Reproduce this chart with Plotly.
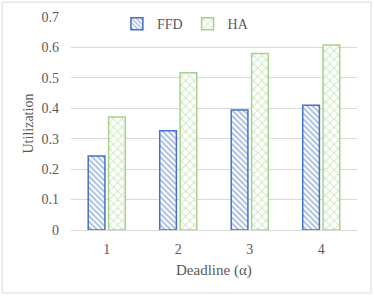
import plotly.graph_objects as go

categories = ["1", "2", "3", "4"]
ffd = [0.243, 0.326, 0.394, 0.410]
ha = [0.371, 0.517, 0.580, 0.608]
y_ticks = [0, 0.1, 0.2, 0.3, 0.4, 0.5, 0.6, 0.7]
y_tick_text = ["0", "0.1", "0.2", "0.3", "0.4", "0.5", "0.6", "0.7"]

FONT = "Liberation Serif, Times New Roman, serif"
BLUE = "#4472C4"
GREEN = "#A9D18E"
TXT = "#595959"

fig = go.Figure()
fig.add_trace(go.Bar(
    name="FFD", x=categories, y=ffd,
    marker=dict(color="white", line=dict(color=BLUE, width=1.5),
                pattern=dict(shape="\\", fgcolor=BLUE, bgcolor="white", size=4, solidity=0.45)),
))
fig.add_trace(go.Bar(
    name="HA", x=categories, y=ha,
    marker=dict(color="white", line=dict(color=GREEN, width=1.5),
                pattern=dict(shape="x", fgcolor=GREEN, bgcolor="white", size=6, solidity=0.35)),
))

fig.update_layout(
    width=374, height=296,
    margin=dict(l=71, r=17, t=17, b=66, autoexpand=False),
    paper_bgcolor="white", plot_bgcolor="white",
    font=dict(family=FONT, size=14, color=TXT),
    barmode="group", bargap=0.43, bargroupgap=0.18,
    showlegend=True,
    legend=dict(orientation="h", x=0.40, y=0.967, xanchor="center", yanchor="middle",
                font=dict(family=FONT, size=14, color=TXT),
                bgcolor="rgba(0,0,0,0)", itemwidth=30, tracegroupgap=0),
    shapes=[dict(type="rect", xref="paper", yref="paper",
                 x0=-0.241, x1=1.049, y0=-0.296, y1=1.070,
                 line=dict(color="#D9D9D9", width=1), fillcolor="rgba(0,0,0,0)", layer="below")],
    annotations=[
        dict(text="Utilization", xref="paper", yref="paper", x=(28 - 71) / 286, y=0.5,
             textangle=-90, showarrow=False, xanchor="center", yanchor="middle",
             font=dict(family=FONT, size=14, color=TXT)),
        dict(text="Deadline (α)", xref="paper", yref="paper", x=(214 - 71) / 286, y=(230 - 270.5) / 213,
             showarrow=False, xanchor="center", yanchor="middle",
             font=dict(family=FONT, size=15, color=TXT)),
    ],
)
fig.update_yaxes(range=[0, 0.7], tickvals=y_ticks, ticktext=y_tick_text, automargin=False,
                 showgrid=True, gridcolor="#D9D9D9", gridwidth=1, zeroline=False,
                 showline=False, ticks="", ticklen=0, ticklabelstandoff=11,
                 tickfont=dict(family=FONT, size=14, color=TXT))
fig.update_xaxes(showgrid=False, showline=True, linecolor="#D9D9D9", linewidth=1, automargin=False,
                 ticks="", ticklabelstandoff=6, tickfont=dict(family=FONT, size=14, color=TXT))

fig.write_html("out.html", config={"displayModeBar": False},
               post_script="document.body.style.margin='0px';document.body.style.overflow='hidden';")
